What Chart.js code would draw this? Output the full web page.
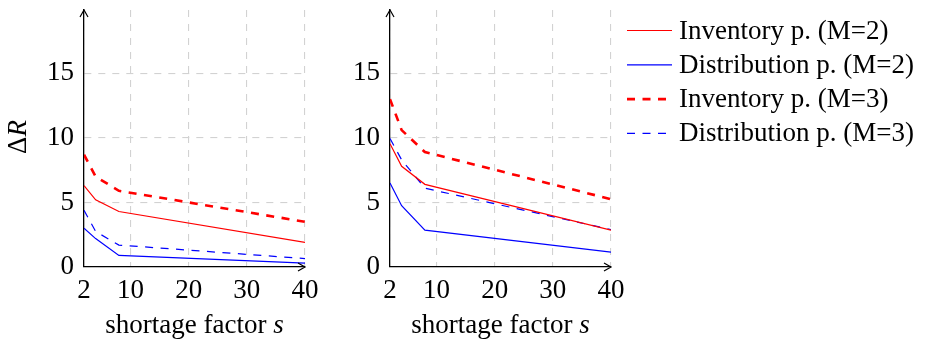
<!DOCTYPE html>
<html>
<head>
<meta charset="utf-8">
<script src="https://cdn.jsdelivr.net/npm/chart.js@4"></script>
<style>
  body { margin: 0; background: #fff; }
  #wrap { position: relative; width: 936px; height: 345px; }
  canvas { position: absolute; top: 0; }
</style>
</head>
<body>
<div id="wrap">
  <canvas id="leftChart" style="left:0px"></canvas>
  <canvas id="rightChart" style="left:320px"></canvas>
</div>
<script>
// shortage factor s (x values)
const sValues = [2, 4, 8, 40];
const xTicks = [2, 10, 20, 30, 40];
const yTicks = [0, 5, 10, 15];

const legendLabels = [
  'Inventory p. (M=2)',
  'Distribution p. (M=2)',
  'Inventory p. (M=3)',
  'Distribution p. (M=3)'
];

// left panel
const leftInvM2 = [6.3, 5.2, 4.3, 1.9];
const leftDistM2 = [3.0, 2.2, 0.9, 0.3];
const leftInvM3 = [8.7, 7.0, 5.9, 3.5];
const leftDistM3 = [4.4, 2.75, 1.7, 0.65];

// right panel
const rightInvM2 = [9.55, 7.8, 6.4, 2.85];
const rightDistM2 = [6.5, 4.75, 2.85, 1.15];
const rightInvM3 = [13.0, 10.6, 8.9, 5.25];
const rightDistM3 = [9.95, 8.3, 6.1, 2.9];

const FONT = '"Liberation Serif", "DejaVu Serif", serif';
Chart.defaults.font.family = FONT;
Chart.defaults.font.size = 27;
Chart.defaults.color = '#000';

const toPoints = arr => arr.map((v, i) => ({x: sValues[i], y: v}));

const makeDatasets = (inv2, dist2, inv3, dist3) => [
  {label: legendLabels[0], data: toPoints(inv2), borderColor: 'rgb(255,0,0)', borderWidth: 1.2},
  {label: legendLabels[1], data: toPoints(dist2), borderColor: 'rgb(0,0,255)', borderWidth: 1.2},
  {label: legendLabels[2], data: toPoints(inv3), borderColor: 'rgb(255,0,0)', borderWidth: 2.6, borderDash: [8, 7.5]},
  {label: legendLabels[3], data: toPoints(dist3), borderColor: 'rgb(0,0,255)', borderWidth: 1.2, borderDash: [8, 7.5]}
].map(d => Object.assign(d, {pointRadius: 0, tension: 0, fill: false}));

const axisArrows = {
  id: 'axisArrows',
  afterDraw(chart) {
    const {ctx, chartArea: a} = chart;
    ctx.save();
    ctx.strokeStyle = '#000';
    ctx.lineWidth = 1.2;
    ctx.beginPath();
    ctx.moveTo(a.left - 4, a.top + 7);
    ctx.lineTo(a.left, a.top);
    ctx.lineTo(a.left + 4, a.top + 7);
    ctx.moveTo(a.right - 7, a.bottom - 4);
    ctx.lineTo(a.right, a.bottom);
    ctx.lineTo(a.right - 7, a.bottom + 4);
    ctx.stroke();
    ctx.restore();
  }
};

// x title with italic variable, y title only on the left
const axisTitles = {
  id: 'axisTitles',
  afterDraw(chart, args, opts) {
    const {ctx, chartArea: a} = chart;
    const normal = '27px ' + FONT, italic = 'italic 27px ' + FONT;
    ctx.save();
    ctx.fillStyle = '#000';
    ctx.textBaseline = 'alphabetic';
    ctx.textAlign = 'left';
    ctx.font = normal;
    const w1 = ctx.measureText('shortage factor ').width;
    ctx.font = italic;
    const w2 = ctx.measureText('s').width;
    let x = (a.left + a.right) / 2 - (w1 + w2) / 2;
    ctx.font = normal;
    ctx.fillText('shortage factor ', x, 333);
    ctx.font = italic;
    ctx.fillText('s', x + w1, 333);
    if (opts.yTitle) {
      ctx.translate(26, 137);
      ctx.rotate(-Math.PI / 2);
      ctx.font = normal;
      const d = ctx.measureText('Δ').width;
      ctx.font = italic;
      const r = ctx.measureText('R').width;
      ctx.font = normal;
      ctx.fillText('Δ', -(d + r) / 2, 0);
      ctx.font = italic;
      ctx.fillText('R', -(d + r) / 2 + d, 0);
    }
    ctx.restore();
  }
};

const sideLegend = {
  id: 'sideLegend',
  afterDraw(chart, args, opts) {
    if (!opts.show) return;
    const ctx = chart.ctx;
    const x0 = chart.chartArea.right + 16;
    chart.data.datasets.forEach((ds, i) => {
      const y = 30.5 + i * 34.3;
      ctx.save();
      ctx.strokeStyle = ds.borderColor;
      ctx.lineWidth = ds.borderWidth;
      ctx.setLineDash(ds.borderDash || []);
      ctx.beginPath();
      ctx.moveTo(x0, y);
      ctx.lineTo(x0 + 45, y);
      ctx.stroke();
      ctx.fillStyle = '#000';
      ctx.font = '27px ' + FONT;
      ctx.textBaseline = 'middle';
      ctx.fillText(ds.label, x0 + 52, y + 1);
      ctx.restore();
    });
  }
};

const makeChart = (id, width, yWidth, padRight, datasets, isLeft) => {
  const canvas = document.getElementById(id);
  canvas.width = width;
  canvas.height = 345;
  return new Chart(canvas.getContext('2d'), {
    type: 'line',
    data: {datasets: datasets},
    plugins: [axisArrows, axisTitles, sideLegend],
    options: {
      responsive: false,
      animation: false,
      layout: {padding: {left: 0, right: padRight, top: 10, bottom: 0}},
      plugins: {
        legend: {display: false},
        tooltip: {enabled: false},
        axisTitles: {yTitle: isLeft},
        sideLegend: {show: !isLeft}
      },
      scales: {
        x: {
          type: 'linear',
          min: 2,
          max: 40,
          afterBuildTicks: s => { s.ticks = xTicks.map(v => ({value: v})); },
          afterFit: s => { s.height = 78; s.paddingLeft = 0; s.paddingRight = 0; },
          ticks: {padding: 8, maxRotation: 0, autoSkip: false},
          grid: {color: 'rgb(210,210,210)', lineWidth: 1.1, drawTicks: false},
          border: {color: '#000', width: 1.3, dash: [7, 7]}
        },
        y: {
          type: 'linear',
          min: 0,
          max: 19.9,
          afterBuildTicks: s => { s.ticks = yTicks.map(v => ({value: v})); },
          afterFit: s => { s.width = yWidth; s.paddingTop = 0; s.paddingBottom = 0; },
          ticks: {padding: 10, autoSkip: false},
          grid: {color: 'rgb(210,210,210)', lineWidth: 1.1, drawTicks: false},
          border: {color: '#000', width: 1.3, dash: [7, 7]}
        }
      }
    }
  });
};

makeChart('leftChart', 320, 84, 15, makeDatasets(leftInvM2, leftDistM2, leftInvM3, leftDistM3), true);
makeChart('rightChart', 616, 70, 325, makeDatasets(rightInvM2, rightDistM2, rightInvM3, rightDistM3), false);
</script>
</body>
</html>
